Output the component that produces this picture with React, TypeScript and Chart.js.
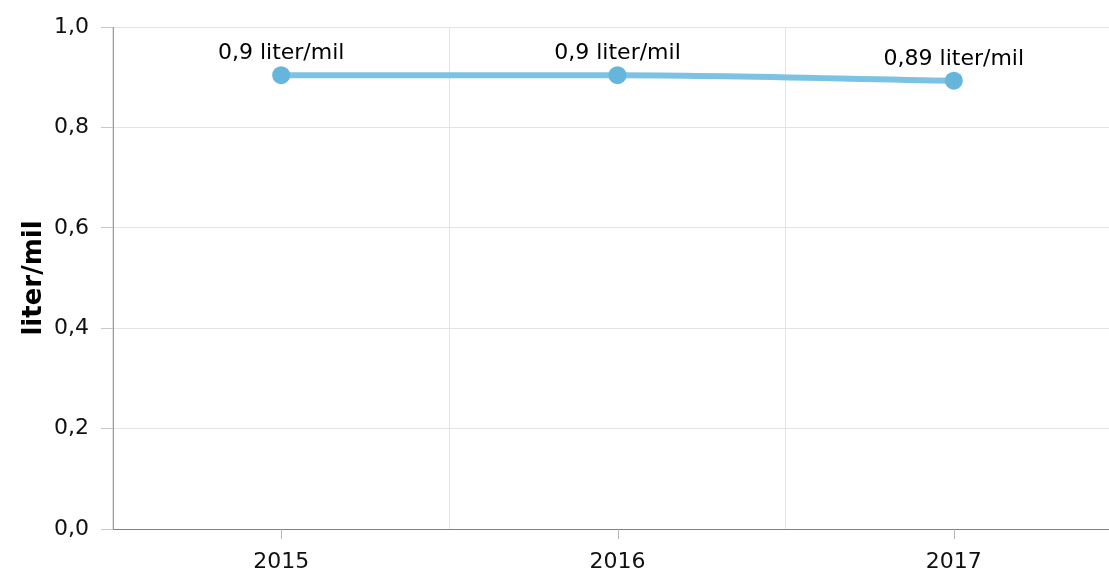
import React, { useEffect, useRef } from "react";
import { Chart, registerables } from "chart.js";

Chart.register(...registerables);

const categories = ["2015", "2016", "2017"];
const values = [0.904, 0.904, 0.893];
const unit = "liter/mil";
const yTicks = [0, 0.2, 0.4, 0.6, 0.8, 1.0];

const FONT = "'DejaVu Sans', Verdana, sans-serif";

const fmt = (v: number, d: number) => {
  let s = v.toFixed(d);
  if (d > 1) s = s.replace(/0+$/, "").replace(/\.$/, "");
  return s.replace(".", ",");
};

const dataLabelPlugin = {
  id: "dataLabels",
  afterDatasetsDraw(chart: any) {
    const ctx = chart.ctx;
    const meta = chart.getDatasetMeta(0);
    ctx.save();
    ctx.font = `22px ${FONT}`;
    ctx.fillStyle = "#000";
    ctx.textAlign = "center";
    ctx.textBaseline = "alphabetic";
    meta.data.forEach((pt: any, i: number) => {
      const v = chart.data.datasets[0].data[i];
      ctx.fillText(`${fmt(v, 2)} ${unit}`, pt.x, pt.y - 16);
    });
    ctx.restore();
  },
};

const xTickMarks = {
  id: "xTickMarks",
  afterDraw(chart: any) {
    const x = chart.scales.x;
    const ctx = chart.ctx;
    ctx.save();
    ctx.strokeStyle = "#b3b3b3";
    ctx.lineWidth = 1;
    x.ticks.forEach((_: any, i: number) => {
      const px = Math.round(x.getPixelForValue(i)) + 0.5;
      ctx.beginPath();
      ctx.moveTo(px, x.top);
      ctx.lineTo(px, x.top + 10);
      ctx.stroke();
    });
    ctx.restore();
  },
};

export default function App() {
  const ref = useRef<HTMLCanvasElement>(null);
  useEffect(() => {
    if (!ref.current) return;
    const chart = new Chart(ref.current, {
      type: "line",
      data: {
        labels: categories,
        datasets: [
          {
            data: values,
            borderColor: "#7cc3e3",
            borderWidth: 6,
            pointRadius: 9,
            pointHoverRadius: 9,
            pointBackgroundColor: "#66b5dc",
            pointBorderWidth: 0,
            cubicInterpolationMode: "monotone",
            fill: false,
          },
        ],
      },
      options: {
        animation: false,
        responsive: true,
        maintainAspectRatio: false,
        layout: { padding: { top: 27, right: 0, left: 0, bottom: 0 } },
        plugins: {
          legend: { display: false },
          tooltip: { enabled: false },
        },
        scales: {
          x: {
            type: "category",
            offset: true,
            grid: {
              offset: true,
              color: "#e3e3e3",
              drawTicks: false,
            },
            border: { color: "#808080", width: 1 },
            ticks: {
              padding: 20,
              color: "#111",
              font: { family: FONT, size: 22 },
            },
            afterFit(scale: any) {
              scale.height = 49;
              scale.paddingRight = 0;
              scale.paddingLeft = 0;
            },
          },
          y: {
            min: 0,
            max: 1,
            afterBuildTicks(scale: any) {
              scale.ticks = yTicks.map((v) => ({ value: v }));
            },
            grid: {
              color: "#e3e3e3",
              tickColor: "#c8c8c8",
              tickLength: 12,
            },
            border: { color: "#999999", width: 1 },
            ticks: {
              padding: 12,
              color: "#111",
              font: { family: FONT, size: 22 },
              callback: (v: any) => fmt(Number(v), 1),
            },
            title: {
              display: true,
              text: unit,
              color: "#000",
              font: { family: FONT, size: 26, weight: "bold" },
              padding: { top: 19, bottom: 0 },
            },
            afterFit(scale: any) {
              scale.width = 113;
            },
          },
        },
      },
      plugins: [dataLabelPlugin, xTickMarks],
    });
    return () => chart.destroy();
  }, []);
  return (
    <div style={{ position: "absolute", left: 0, top: 0, width: 1109, height: 578, overflow: "hidden" }}>
      <div style={{ position: "relative", width: 1131, height: 578 }}>
        <canvas ref={ref} />
      </div>
    </div>
  );
}
